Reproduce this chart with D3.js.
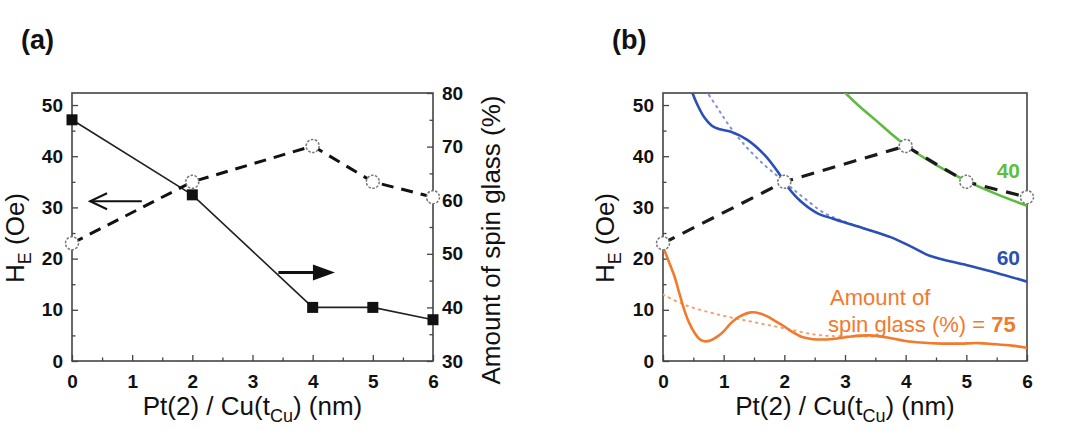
<!DOCTYPE html>
<html><head><meta charset="utf-8">
<script src="https://cdn.jsdelivr.net/npm/d3@7"></script>
<style>body{margin:0;background:#fff} svg{display:block}</style>
</head><body><svg id="c" width="1083" height="430"></svg>
<script>
// ---- data ----
const thickness = [0, 2, 4, 5, 6];
const exchangeBias = [23, 35, 42, 35, 32];        // H_E (Oe), left axis
const spinGlass = [75, 61, 40, 40, 37.7];          // %, right axis
const xTicks = [0, 1, 2, 3, 4, 5, 6];
const xMinor = [0.5, 1.5, 2.5, 3.5, 4.5, 5.5];
const leftTicks = [0, 10, 20, 30, 40, 50];
const leftMinor = [5, 15, 25, 35, 45];
const rightTicks = [30, 40, 50, 60, 70, 80];
const rightMinor = [35, 45, 55, 65, 75];
// arrows in panel (a), [x, H_E]
const arrowToLeft = [[1.16, 31.2], [0.3, 31.2]];
const arrowToRight = [[3.43, 17.3], [4.37, 17.3]];
// panel (b) simulated curves [x, H_E]
const curve40 = [[2.95,53],[3.25,49.6],[3.5,47.1],[3.75,44.5],[4,42.1],[4.5,38.3],[5,35.2],[5.5,32.6],[6,30.3]];
const curve60 = [[0.45,53.5],[0.55,50.5],[0.68,47.6],[0.8,46],[0.92,45.3],[1.12,44.8],[1.39,43.2],[1.67,40.3],[1.89,37.0],[2.05,34.1],[2.27,31.2],[2.54,28.9],[2.8,27.8],[3.2,26.3],[3.75,24.2],[4.1,22.3],[4.41,20.5],[5.01,18.7],[5.5,17.2],[6,15.5]];
const curve60fit = [[0.7,53],[0.9,49.4],[1.12,45.5],[1.39,41.6],[1.67,38.3],[1.89,36.1],[2.1,34],[2.33,31.8],[2.66,28.9],[3.0,27.2],[3.5,25.2],[3.8,24]];
const curve75 = [[0,22.3],[0.1,19.3],[0.19,16.5],[0.27,13.2],[0.35,10],[0.43,7.5],[0.52,5.5],[0.6,4.3],[0.68,3.85],[0.78,4.0],[0.9,4.8],[1.0,5.8],[1.12,7.4],[1.25,8.6],[1.45,9.5],[1.6,9.3],[1.72,8.7],[1.85,7.8],[1.99,6.8],[2.13,5.7],[2.27,4.8],[2.4,4.4],[2.54,4.2],[2.8,4.3],[3.1,4.8],[3.4,5.0],[3.7,4.6],[4.0,3.9],[4.25,3.6],[4.6,3.4],[4.9,3.4],[5.2,3.5],[5.45,3.3],[5.75,3.0],[6,2.6]];
const curve75fit = [[0,13],[0.35,11],[0.9,9.1],[1.45,7.7],[2,6.4],[2.54,5.1],[3.0,4.8],[3.6,4.8]];

// ---- layout ----
const svg = d3.select("#c");
const FONT = "'Liberation Sans', Arial, sans-serif";
const TOP = 93, BOTTOM = 361;
const panels = [{x0: 72, x1: 433, label: "(a)", lx: 21, tx: 24}, {x0: 663, x1: 1027, label: "(b)", lx: 612, tx: 614}];

function frameAndAxes(p, right) {
  const g = svg.append("g");
  const x = d3.scaleLinear().domain([0, 6]).range([p.x0, p.x1]);
  const y = d3.scaleLinear().domain([0, 52.35]).range([BOTTOM, TOP]);
  const styleAxis = sel => {
    sel.select(".domain").remove();
    sel.selectAll("line").attr("stroke", "#444").attr("stroke-width", 1.3);
    sel.selectAll("text").attr("font-family", FONT).attr("font-weight", "bold").attr("font-size", 19).attr("fill", "#111");
  };
  g.append("g").attr("transform", `translate(0,${BOTTOM})`)
    .call(d3.axisBottom(x).tickValues(xTicks).tickSize(-6).tickPadding(10).tickFormat(d3.format("d"))).call(styleAxis)
    .selectAll("text").attr("dy", "0.9em");
  g.append("g").attr("transform", `translate(0,${BOTTOM})`)
    .call(d3.axisBottom(x).tickValues(xMinor).tickSize(-3.5).tickFormat("")).call(styleAxis);
  g.append("g").attr("transform", `translate(${p.x0},0)`)
    .call(d3.axisLeft(y).tickValues(leftTicks).tickSize(-6).tickPadding(9)).call(styleAxis);
  g.append("g").attr("transform", `translate(${p.x0},0)`)
    .call(d3.axisLeft(y).tickValues(leftMinor).tickSize(-3.5).tickFormat("")).call(styleAxis);
  let yr = null;
  if (right) {
    yr = d3.scaleLinear().domain([30, 80]).range([BOTTOM, TOP]);
    g.append("g").attr("transform", `translate(${p.x1},0)`)
      .call(d3.axisRight(yr).tickValues(rightTicks).tickSize(-6).tickPadding(9)).call(styleAxis);
    g.append("g").attr("transform", `translate(${p.x1},0)`)
      .call(d3.axisRight(yr).tickValues(rightMinor).tickSize(-3.5).tickFormat("")).call(styleAxis);
  }
  g.append("rect").attr("x", p.x0).attr("y", TOP).attr("width", p.x1 - p.x0).attr("height", BOTTOM - TOP)
    .attr("fill", "none").attr("stroke", "#444").attr("stroke-width", 1.6);
  // panel label
  svg.append("text").attr("x", p.lx).attr("y", 49).attr("font-family", FONT).attr("font-weight", "bold")
    .attr("font-size", 27).attr("fill", "#111").text(p.label);
  // x title
  const xt = svg.append("text").attr("x", (p.x0 + p.x1) / 2).attr("y", 415).attr("text-anchor", "middle")
    .attr("font-family", FONT).attr("font-size", 26).attr("fill", "#111");
  xt.append("tspan").text("Pt(2) / Cu(t");
  xt.append("tspan").attr("dy", 7).attr("font-size", 18).text("Cu");
  xt.append("tspan").attr("dy", -7).text(") (nm)");
  // y title
  const yt = svg.append("text").attr("transform", `translate(${p.tx},238) rotate(-90)`).attr("text-anchor", "middle")
    .attr("font-family", FONT).attr("font-size", 26).attr("fill", "#111");
  yt.append("tspan").text("H");
  yt.append("tspan").attr("dy", 7).attr("font-size", 18).text("E");
  yt.append("tspan").attr("dy", -7).text(" (Oe)");
  return {x, y, yr, g};
}

// ---- panel (a) ----
const A = frameAndAxes(panels[0], true);
svg.append("text").attr("transform", `translate(500,240) rotate(-90)`).attr("text-anchor", "middle")
  .attr("font-family", FONT).attr("font-size", 26).attr("fill", "#111").text("Amount of spin glass (%)");

const lineA = d3.line().x(d => A.x(d[0])).y(d => A.y(d[1]));
const lineR = d3.line().x(d => A.x(d[0])).y(d => A.yr(d[1]));
const heData = thickness.map((t, i) => [t, exchangeBias[i]]);
const sgData = thickness.map((t, i) => [t, spinGlass[i]]);
svg.append("path").attr("d", lineR(sgData)).attr("fill", "none").attr("stroke", "#222").attr("stroke-width", 1.6);
svg.append("path").attr("d", lineA(heData)).attr("fill", "none").attr("stroke", "#111").attr("stroke-width", 3)
  .attr("stroke-dasharray", "12,8");
svg.selectAll(".sq").data(sgData).enter().append("rect")
  .attr("x", d => A.x(d[0]) - 5.5).attr("y", d => A.yr(d[1]) - 5.5).attr("width", 11).attr("height", 11).attr("fill", "#111");
svg.selectAll(".ca").data(heData).enter().append("circle")
  .attr("cx", d => A.x(d[0])).attr("cy", d => A.y(d[1])).attr("r", 6.5)
  .attr("fill", "#fff").attr("stroke", "#777").attr("stroke-width", 1.5).attr("stroke-dasharray", "2.5,1.5");
// arrows
{
  const [a0, a1] = arrowToLeft.map(d => [A.x(d[0]), A.y(d[1])]);
  svg.append("line").attr("x1", a0[0]).attr("y1", a0[1]).attr("x2", a1[0]).attr("y2", a1[1]).attr("stroke", "#111").attr("stroke-width", 2);
  svg.append("path").attr("d", `M${a1[0] + 17},${a1[1] - 8} L${a1[0]},${a1[1]} L${a1[0] + 17},${a1[1] + 8}`)
    .attr("fill", "none").attr("stroke", "#111").attr("stroke-width", 2);
  const [b0, b1] = arrowToRight.map(d => [A.x(d[0]), A.y(d[1])]);
  svg.append("line").attr("x1", b0[0]).attr("y1", b0[1]).attr("x2", b1[0] - 20).attr("y2", b1[1]).attr("stroke", "#111").attr("stroke-width", 3);
  svg.append("path").attr("d", `M${b1[0]},${b1[1]} L${b1[0] - 22},${b1[1] - 8} L${b1[0] - 22},${b1[1] + 8} Z`).attr("fill", "#111");
}

// ---- panel (b) ----
const B = frameAndAxes(panels[1], false);
svg.append("clipPath").attr("id", "clipb").append("rect")
  .attr("x", panels[1].x0).attr("y", TOP).attr("width", panels[1].x1 - panels[1].x0).attr("height", BOTTOM - TOP);
const gb = svg.append("g").attr("clip-path", "url(#clipb)");
const lineB = d3.line().x(d => B.x(d[0])).y(d => B.y(d[1])).curve(d3.curveCatmullRom);
const ORANGE = "#f27a2c", BLUE = "#2b4fb5", GREEN = "#5dbb3f";
gb.append("path").attr("d", lineB(curve75fit)).attr("fill", "none").attr("stroke", "#f6a070").attr("stroke-width", 2).attr("stroke-dasharray", "1.5,5").attr("stroke-linecap", "round");
gb.append("path").attr("d", lineB(curve60fit)).attr("fill", "none").attr("stroke", "#7f8fe0").attr("stroke-width", 2).attr("stroke-dasharray", "1.5,5").attr("stroke-linecap", "round");
gb.append("path").attr("d", lineB(curve75)).attr("fill", "none").attr("stroke", ORANGE).attr("stroke-width", 2.6);
gb.append("path").attr("d", lineB(curve60)).attr("fill", "none").attr("stroke", BLUE).attr("stroke-width", 2.6);
gb.append("path").attr("d", lineB(curve40)).attr("fill", "none").attr("stroke", GREEN).attr("stroke-width", 2.6);
const lineBD = d3.line().x(d => B.x(d[0])).y(d => B.y(d[1]));
svg.append("path").attr("d", lineBD(heData)).attr("fill", "none").attr("stroke", "#1a1a1a").attr("stroke-width", 3.2)
  .attr("stroke-dasharray", "13,9");
svg.selectAll(".cb").data(heData).enter().append("circle")
  .attr("cx", d => B.x(d[0])).attr("cy", d => B.y(d[1])).attr("r", 6.5)
  .attr("fill", "#fff").attr("stroke", "#777").attr("stroke-width", 1.5).attr("stroke-dasharray", "2.5,1.5");
// curve labels
svg.append("text").attr("x", 1020).attr("y", 178).attr("text-anchor", "end").attr("font-family", FONT)
  .attr("font-weight", "bold").attr("font-size", 21).attr("fill", "#5fbf3c").text("40");
svg.append("text").attr("x", 1020).attr("y", 265).attr("text-anchor", "end").attr("font-family", FONT)
  .attr("font-weight", "bold").attr("font-size", 21).attr("fill", "#2b50b0").text("60");
svg.append("text").attr("x", 830).attr("y", 305).attr("font-family", FONT).attr("font-size", 22).attr("fill", ORANGE).text("Amount of");
const sg = svg.append("text").attr("x", 828).attr("y", 332).attr("font-family", FONT).attr("font-size", 22).attr("fill", ORANGE);
sg.append("tspan").text("spin glass (%) = ");
sg.append("tspan").attr("font-weight", "bold").text("75");
</script>
</body></html>
